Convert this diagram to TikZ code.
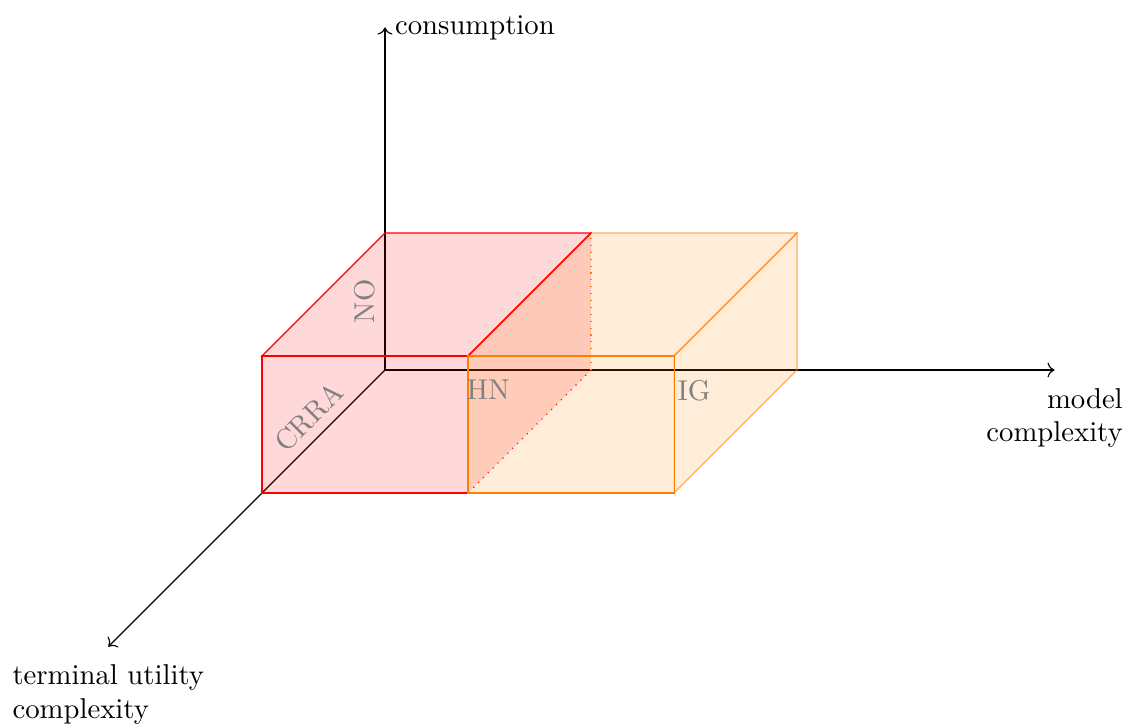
\documentclass[tikz,border=0pt]{standalone}
\usepackage{tikz}
\usetikzlibrary{arrows.meta,calc,positioning}
\definecolor{labelgray}{HTML}{808080}

\begin{document}
\begin{tikzpicture}[x={(2.523cm,0cm)},y={(0cm,1.678cm)},z={(-1.506cm,-1.506cm)},
 redbox/.style={draw=red,fill=red,fill opacity=.15},
 orangebox/.style={draw=orange,fill=orange,fill opacity=.15},
 boxlabel/.style={text=labelgray}]
 \useasboundingbox(-4.715cm,-4.347cm)rectangle(9.062cm,4.531cm);
 % axes
 \coordinate(O)at(0,0,0);
 \coordinate(xend)at(3.25,0,0);
 \coordinate(yend)at(0,2.5,0);
 \coordinate(zend)at(0,0,2.25);
 \draw[->](O)--(xend);
 \draw[->](O)--(yend);
 \draw[->](O)--(zend);
 \node[right](ylab)at(yend){consumption};
 \node[below=.1cm,align=right](xlab)at(xend){model\\[-.5pt]complexity};
 \node[below=.09cm,align=left](zlab)at(zend){terminal utility\\complexity};
 % orange box, top and right faces
 \filldraw[orangebox,draw opacity=.6](1,1,1)--(1,1,0)--(2,1,0)--(2,1,1)--cycle;
 \filldraw[orangebox,draw opacity=.6](2,0,1)--(2,0,0)--(2,1,0)--(2,1,1)--cycle;
 % red box
 \filldraw[redbox](0,1,1)--(0,1,0)--(1,1,0)--(1,1,1)--cycle;
 \fill[red,fill opacity=.15](1,0,1)--(1,0,0)--(1,1,0)--(1,1,1)--cycle;
 \draw[red](1,1,1)--(1,1,0);
 \draw[red,dotted](1,0,0)--(1,0,1);
 \filldraw[redbox](0,0,1)--(1,0,1)--(1,1,1)--(0,1,1)--cycle;
 % orange box, front face
 \filldraw[orangebox](1,0,1)--(2,0,1)--(2,1,1)--(1,1,1)--cycle;
 \draw[orange,dotted](1,0,0)--(1,1,0);
 % labels
 \node[boxlabel,rotate=90,anchor=south](no)at(0,.5,0){NO};
 \node[boxlabel,rotate=45,anchor=south](crra)at(0,0,.5){CRRA};
 \foreach \xx/\name/\txt in {.5/hn/HN,1.5/ig/IG}{
  \node[boxlabel,below](\name)at(\xx,0,0){\txt};}
\end{tikzpicture}
\end{document}
